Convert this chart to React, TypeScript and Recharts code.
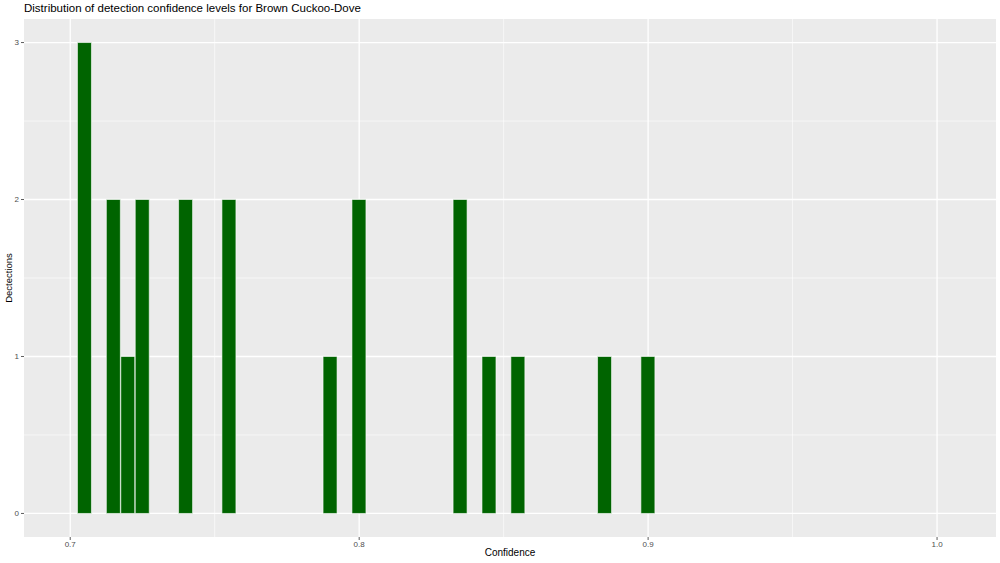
import { BarChart, Bar, XAxis, YAxis, CartesianGrid } from "recharts";

// histogram bins (centre of each 0.005-wide bin) and their counts
const binCenters = [0.705, 0.715, 0.72, 0.725, 0.74, 0.755, 0.79, 0.8, 0.835, 0.845, 0.855, 0.885, 0.9];
const counts = [3, 2, 1, 2, 2, 2, 1, 2, 2, 1, 1, 1, 1];

const xTicks = [0.7, 0.8, 0.9, 1.0];
const xMinor = [0.75, 0.85, 0.95];
const yTicks = [0, 1, 2, 3];
const yMinor = [0.5, 1.5, 2.5];

const data = binCenters.map((c, i) => ({ confidence: c, count: counts[i] }));

const W = 1000;
const H = 563;
const font = "'Liberation Sans', Arial, sans-serif";
const tickStyle = { fontSize: 8, fill: "#4D4D4D", stroke: "none", fontFamily: font };

export default function App() {
  return (
    <div style={{ position: "absolute", left: 0, top: 0, width: W, height: H, background: "#fff" }}>
      <div
        style={{
          position: "absolute",
          left: 24,
          top: 2,
          fontFamily: font,
          fontSize: 11.5,
          color: "#000",
          whiteSpace: "nowrap",
        }}
      >
        Distribution of detection confidence levels for Brown Cuckoo-Dove
      </div>
      <BarChart
        width={W}
        height={H}
        data={data}
        margin={{ top: 19, right: 4, bottom: 0, left: 0 }}
        barCategoryGap={0}
      >
        <CartesianGrid
          fill="#EBEBEB"
          stroke="#FFFFFF"
          strokeWidth={0.6}
          verticalValues={xMinor}
          horizontalValues={yMinor}
        />
        <CartesianGrid
          fill="none"
          stroke="#FFFFFF"
          strokeWidth={1.3}
          verticalValues={xTicks}
          horizontalValues={yTicks}
        />
        <XAxis
          dataKey="confidence"
          type="number"
          domain={[0.684, 1.0204]}
          allowDataOverflow
          ticks={xTicks}
          tickFormatter={(v: number) => v.toFixed(1)}
          axisLine={false}
          tickLine={{ stroke: "#333333", strokeWidth: 0.8 }}
          tickSize={3}
          tickMargin={1}
          tick={tickStyle}
          height={26}
        />
        <YAxis
          type="number"
          domain={[-0.15, 3.15]}
          allowDataOverflow
          ticks={yTicks}
          axisLine={false}
          tickLine={{ stroke: "#333333", strokeWidth: 0.8 }}
          tickSize={3}
          tickMargin={2}
          tick={tickStyle}
          width={24}
        />
        <Bar
          dataKey="count"
          fill="#006400"
          stroke="#FFFFFF"
          strokeWidth={0.6}
          barSize={14}
          isAnimationActive={false}
        />
      </BarChart>
      <div
        style={{
          position: "absolute",
          left: 510,
          top: 547,
          transform: "translateX(-50%)",
          fontFamily: font,
          fontSize: 10,
          color: "#000",
          whiteSpace: "nowrap",
        }}
      >
        Confidence
      </div>
      <div
        style={{
          position: "absolute",
          left: 8,
          top: 278,
          transform: "translate(-50%, -50%) rotate(-90deg)",
          fontFamily: font,
          fontSize: 9.5,
          color: "#000",
          whiteSpace: "nowrap",
        }}
      >
        Dectections
      </div>
    </div>
  );
}
